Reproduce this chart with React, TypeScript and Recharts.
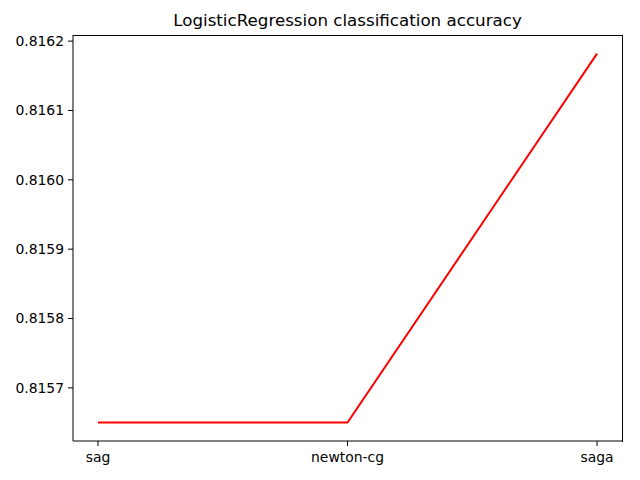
import React from "react";
import { LineChart, Line, XAxis, YAxis } from "recharts";

const solvers = ["sag", "newton-cg", "saga"];
const accuracy = [0.81565, 0.81565, 0.816182];
const yTicks = [0.8157, 0.8158, 0.8159, 0.816, 0.8161, 0.8162];

const data = solvers.map((solver, i) => ({ x: i, solver, accuracy: accuracy[i] }));

const FONT = "'DejaVu Sans', sans-serif";
const tickStyle = { fill: "#000", fontSize: 13.9, fontFamily: FONT };

export default function App() {
  return (
    <div style={{ position: "absolute", left: 0, top: 0, width: 640, height: 480, background: "#fff" }}>
      <div
        style={{
          position: "absolute",
          left: 73,
          width: 549,
          top: 10,
          textAlign: "center",
          fontFamily: FONT,
          fontSize: 16.7,
          color: "#000",
        }}
      >
        LogisticRegression classification accuracy
      </div>
      <LineChart width={640} height={480} data={data} margin={{ top: 35, right: 18, left: 0, bottom: 0 }}>
        <XAxis
          dataKey="x"
          type="number"
          domain={[-0.1, 2.1]}
          ticks={[0, 1, 2]}
          tickFormatter={(v) => solvers[v]}
          height={39}
          tick={tickStyle}
          tickSize={5}
          tickMargin={6}
          axisLine={{ stroke: "#000", strokeWidth: 1 }}
          tickLine={{ stroke: "#000" }}
          interval={0}
        />
        <YAxis
          type="number"
          domain={[0.8156234, 0.8162088]}
          ticks={yTicks}
          tickFormatter={(v) => Number(v).toFixed(4)}
          width={73}
          tick={tickStyle}
          tickSize={5}
          tickMargin={4}
          axisLine={{ stroke: "#000" }}
          tickLine={{ stroke: "#000" }}
          allowDataOverflow
        />
        <Line
          type="linear"
          dataKey="accuracy"
          stroke="#ff0000"
          strokeWidth={2}
          dot={false}
          isAnimationActive={false}
        />
      </LineChart>
      {/* top and right spines */}
      <div
        style={{
          position: "absolute",
          left: 73,
          top: 35,
          width: 549,
          height: 406,
          borderTop: "1px solid #000",
          borderRight: "1px solid #000",
          pointerEvents: "none",
        }}
      />
    </div>
  );
}
